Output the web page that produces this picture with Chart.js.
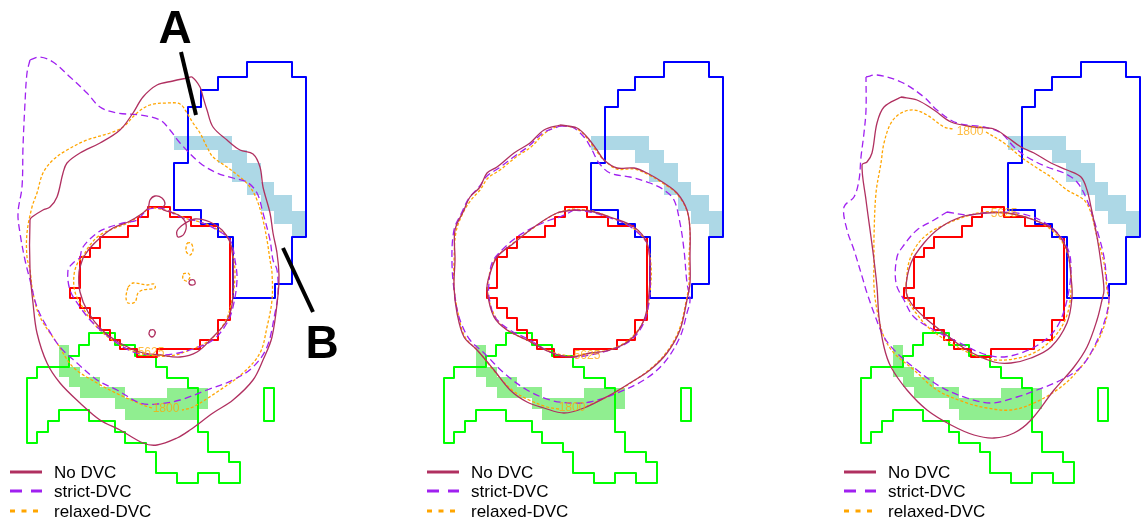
<!DOCTYPE html>
<html>
<head>
<meta charset="utf-8">
<script src="https://cdn.jsdelivr.net/npm/chart.js@4.4.1/dist/chart.umd.min.js"></script>
<style>
    html, body { margin: 0; padding: 0; background: #fff; overflow: hidden; }
    #wrap { position: relative; width: 1144px; height: 527px; overflow: hidden; }
    .panel { position: absolute; top: 0; height: 527px; }
</style>
</head>
<body>
<div id="wrap">
    <div class="panel" style="left:0;width:417px"><canvas id="p1" width="417" height="527"></canvas></div>
    <div class="panel" style="left:417px;width:417px"><canvas id="p2" width="417" height="527"></canvas></div>
    <div class="panel" style="left:834px;width:310px"><canvas id="p3" width="310" height="527"></canvas></div>
</div>
<script>
// ---- structures (same in every panel), panel pixel units ----
const blueRegion = [[247,62],[292,62],[292,77],[306,77],[306,237],[292,237],[292,284],[275,284],[275,298],[233,298],[233,237],[218,237],[218,224],[201,224],[201,210],[174,210],[174,163],[188,163],[188,107],[201,107],[201,90],[218,90],[218,77],[247,77]];
const blueBand = [[174,136],[232,136],[232,150],[247,150],[247,163],[261,163],[261,182],[274,182],[274,195],[292,195],[292,211],[306,211],[306,237],[292,237],[292,224],[274,224],[274,211],[261,211],[261,195],[247,195],[247,182],[232,182],[232,163],[218,163],[218,150],[174,150]];
const redRegion = [[148,207],[170,207],[170,217],[191,217],[191,226],[218,226],[218,237],[230,237],[230,320],[218,320],[218,340],[200,340],[200,349],[157,349],[157,357],[137,357],[137,349],[120,349],[120,340],[110,340],[110,330],[100,330],[100,318],[90,318],[90,308],[80,308],[80,298],[70,298],[70,288],[80,288],[80,257],[90,257],[90,248],[100,248],[100,237],[128,237],[128,226],[138,226],[138,217],[148,217]];
const greenRegion = [[27,378],[37,378],[37,367],[69,367],[69,356],[79,356],[79,345],[89,345],[89,333],[115,333],[115,345],[135,345],[135,356],[156,356],[156,367],[167,367],[167,378],[188,378],[188,388],[198,388],[198,432],[208,432],[208,452],[229,452],[229,462],[240,462],[240,483],[219,483],[219,473],[198,473],[198,483],[177,483],[177,473],[156,473],[156,452],[146,452],[146,443],[125,443],[125,432],[115,432],[115,421],[89,421],[89,410],[59,410],[59,421],[48,421],[48,432],[37,432],[37,443],[27,443]];
const greenSmall = [[264,388],[274,388],[274,421],[264,421]];
const greenBand = [[59,345],[69,345],[69,367],[80,367],[80,377],[100,377],[100,387],[125,387],[125,398],[167,398],[167,388],[208,388],[208,409],[198,409],[198,420],[125,420],[125,409],[115,409],[115,398],[80,398],[80,387],[69,387],[69,377],[59,377]];

// ---- A / B pointers (panel 1) ----
const pointerA = [[181,52],[196,115]];
const pointerB = [[283,248],[313,312]];

// ---- series ----
const seriesNames = ['No DVC', 'strict-DVC', 'relaxed-DVC'];

// ---- panel 1 isodose lines ----
const noDvcOuter1 = [[187,78],[192,77],[200,87],[203,97],[207,110],[213,127],[227,140],[240,150],[253,154],[260,167],[263,187],[270,213],[273,233],[277,253],[279,275],[278,295],[272,337],[263,360],[253,380],[233,400],[213,413],[190,430],[177,438],[157,445],[143,443],[120,430],[100,420],[80,403],[60,383],[47,363],[37,333],[33,303],[30,270],[30,220],[32,217],[43,210],[50,207],[57,197],[63,173],[67,163],[80,153],[100,143],[120,130],[133,113],[143,97],[157,85],[173,81]];
const noDvcInner1 = [[83,258],[90,248],[100,238],[113,228],[128,222],[140,215],[148,208],[150,200],[155,196],[162,198],[165,204],[162,209],[170,212],[180,216],[186,224],[184,234],[178,237],[177,231],[184,224],[195,219],[210,222],[222,230],[230,242],[233,260],[233,280],[232,305],[226,322],[212,338],[197,352],[180,357],[160,355],[140,352],[120,343],[102,330],[88,312],[80,292],[79,272]];
const noDvcIslands1 = [[[150,330],[154,330],[155,334],[152,337],[149,334]], [[190,280],[194,280],[195,284],[191,285],[189,283]]];
const strictOuter1 = [[30,60],[40,57],[53,62],[70,77],[87,93],[100,107],[117,113],[140,115],[160,120],[170,130],[180,143],[200,163],[217,173],[233,178],[247,182],[257,193],[263,213],[270,240],[273,260],[277,270],[278,293],[275,313],[267,347],[253,367],[233,380],[207,390],[180,400],[157,404],[140,403],[117,390],[97,380],[77,363],[60,347],[47,327],[37,307],[30,280],[25,260],[20,233],[18,213],[22,187],[23,147],[25,103],[27,73]];
const strictInner1 = [[80,258],[83,247],[97,233],[107,228],[123,223],[137,220],[147,210],[157,208],[167,210],[180,217],[200,222],[217,230],[230,240],[235,260],[237,280],[233,307],[227,323],[213,340],[193,349],[173,354],[153,355],[133,352],[113,340],[93,323],[80,307],[70,290],[68,270],[73,263]];
const relaxedOuter1 = [[152,408],[143,405],[120,395],[97,383],[73,367],[57,343],[40,317],[33,293],[30,270],[27,257],[27,233],[32,207],[37,193],[43,173],[53,160],[67,150],[87,140],[110,133],[123,127],[137,113],[150,105],[167,103],[180,104],[187,113],[193,123],[200,133],[207,147],[213,157],[227,167],[240,177],[250,187],[257,200],[263,220],[267,240],[270,260],[272,273],[272,300],[267,327],[260,353],[243,373],[220,390],[193,407],[182,410]];
const relaxedInner1 = [[82,258],[90,245],[100,235],[115,228],[130,222],[143,213],[150,208],[160,209],[172,212],[185,218],[200,222],[215,228],[228,238],[233,255],[235,275],[232,300],[225,322],[210,340],[190,350],[170,356],[150,355],[130,350],[112,340],[95,325],[83,308],[75,292],[74,275],[78,262]];
const relaxedIslands1 = [[[128,287],[133,283],[147,285],[154,284],[155,288],[143,290],[138,293],[135,302],[128,303],[126,297]], [[183,274],[188,273],[190,277],[187,281],[183,279]], [[187,243],[191,243],[193,250],[190,255],[186,251]]];
const doseLabels1 = [['5625',151,353],['1800',166,409]];

// ---- panel 2 isodose lines ----
const noDvcOuter2 = [[143,125],[160,128],[170,137],[180,150],[187,160],[200,168],[217,168],[230,173],[247,183],[260,193],[270,210],[273,230],[273,257],[273,283],[270,300],[263,330],[250,353],[233,370],[213,383],[193,395],[167,408],[147,413],[127,408],[110,402],[93,390],[77,370],[60,350],[47,337],[40,313],[37,287],[38,260],[38,230],[47,210],[53,197],[63,187],[70,173],[80,167],[97,153],[113,143],[127,130]];
const noDvcInner2 = [[157,210],[173,211],[193,217],[217,227],[230,243],[233,267],[232,293],[227,320],[213,340],[193,350],[173,353],[153,357],[133,352],[110,340],[90,330],[77,317],[70,290],[72,277],[80,257],[97,243],[117,227],[140,213]];
const strictOuter2 = [[143,126],[155,127],[167,137],[175,150],[182,163],[193,173],[213,177],[233,183],[247,190],[257,200],[263,223],[267,250],[270,283],[273,300],[270,313],[263,337],[247,363],[227,380],[200,393],[173,402],[153,403],[133,400],[110,390],[87,373],[67,353],[53,340],[43,320],[38,297],[35,263],[37,230],[45,212],[52,198],[62,187],[70,176],[82,168],[98,156],[112,146],[126,133]];
const strictInner2 = [[157,210],[173,212],[190,217],[207,223],[220,232],[230,243],[233,263],[233,290],[230,313],[223,330],[210,343],[193,350],[173,355],[153,357],[133,352],[113,340],[93,330],[78,317],[72,297],[72,283],[75,263],[85,250],[100,237],[117,227],[133,220],[143,217]];
const relaxedOuter2 = [[142,409],[130,407],[112,400],[95,390],[78,372],[62,352],[48,337],[41,313],[37,287],[37,262],[39,232],[46,213],[54,200],[63,190],[71,178],[83,170],[99,157],[114,147],[128,133],[143,126],[160,129],[170,138],[180,152],[188,161],[200,169],[217,169],[230,174],[247,184],[260,194],[270,211],[273,232],[272,258],[272,283],[269,302],[262,330],[249,353],[232,370],[212,384],[192,396],[170,406]];
const relaxedInner2 = [[155,209],[175,211],[195,218],[216,228],[229,242],[234,265],[233,292],[228,318],[214,338],[195,349],[175,353],[155,356],[135,352],[112,341],[92,331],[79,318],[71,295],[72,276],[79,258],[95,244],[115,229],[138,214]];
const doseLabels2 = [['5625',170,356],['1800',155,408]];

// ---- panel 3 isodose lines ----
const noDvcOuter3 = [[67,97],[83,100],[100,110],[117,122],[140,127],[160,129],[173,137],[187,147],[200,153],[217,163],[233,170],[247,177],[253,190],[257,207],[263,237],[267,263],[270,290],[268,300],[263,320],[253,347],[240,367],[220,390],[197,420],[180,433],[160,438],[140,435],[117,425],[93,410],[73,390],[57,367],[50,347],[45,317],[43,287],[40,260],[37,237],[32,200],[28,165],[33,162],[38,153],[43,123],[50,107]];
const noDvcInner3 = [[150,213],[173,213],[200,220],[220,230],[233,250],[237,277],[238,297],[233,323],[217,347],[197,358],[177,363],[160,362],[133,350],[110,333],[90,317],[77,303],[72,290],[77,263],[90,243],[107,227],[127,217]];
const strictOuter3 = [[32,77],[43,75],[67,82],[90,97],[103,110],[123,123],[150,127],[167,133],[180,147],[193,157],[213,167],[230,173],[243,182],[253,200],[263,230],[270,257],[273,283],[275,300],[270,323],[260,347],[247,367],[227,380],[203,390],[183,397],[157,403],[133,398],[107,387],[83,370],[63,353],[50,337],[40,313],[32,290],[30,283],[20,250],[13,230],[10,207],[20,197],[25,180],[27,157],[30,133],[32,110]];
const strictInner3 = [[113,212],[133,215],[150,213],[167,212],[193,215],[217,227],[233,247],[237,267],[233,300],[223,327],[207,343],[187,353],[167,357],[147,353],[120,340],[100,330],[80,317],[70,300],[62,283],[63,257],[70,245],[83,230],[100,220]];
const relaxedOuter3 = [[152,132],[170,143],[187,157],[203,168],[217,177],[233,190],[250,200],[257,213],[263,237],[270,263],[273,290],[275,300],[272,320],[263,343],[247,367],[227,387],[200,403],[177,410],[153,408],[130,402],[103,390],[80,370],[60,353],[50,337],[43,310],[40,287],[40,260],[40,237],[42,193],[47,163],[50,143],[57,123],[67,113],[80,110],[93,115],[110,127],[119,129]];
const relaxedInner3 = [[72,285],[75,262],[83,245],[95,233],[110,225],[130,217],[150,212],[170,213],[195,218],[215,228],[230,245],[236,265],[237,290],[233,315],[222,335],[205,350],[185,358],[160,360],[140,355],[115,342],[95,328],[82,313],[74,300]];
const doseLabels3 = [['1800',136,132],['5625',170,214]];

// ---- styles ----
const seriesColors = ['#B03060', '#A020F0', '#FFA500'];
const seriesDash = [[], [7, 4], [3, 2]];
const legendDash = [[], [12, 9], [5, 6.5]];

function toPoints(arr, closed) {
    const out = arr.map(p => ({ x: p[0], y: p[1] }));
    if (closed) out.push({ x: arr[0][0], y: arr[0][1] });
    return out;
}

function areaSet(arr, color) {
    return {
        data: toPoints(arr, true), borderWidth: 0, borderColor: color,
        backgroundColor: color, fill: 'shape', pointRadius: 0, tension: 0, order: 30
    };
}

function outlineSet(arr, color) {
    return {
        data: toPoints(arr, true), borderColor: color, borderWidth: 2,
        fill: false, pointRadius: 0, tension: 0, order: 20,
        borderJoinStyle: 'round', borderCapStyle: 'round'
    };
}

function doseSet(arr, series, closed) {
    return {
        data: toPoints(arr, closed), borderColor: seriesColors[series], borderWidth: 1.3,
        borderDash: seriesDash[series], fill: false, pointRadius: 0,
        tension: 0.35, order: 10
    };
}

const textPlugin = {
    id: 'panelText',
    afterDatasetsDraw(chart, args, opts) {
        const ctx = chart.ctx;
        const xs = chart.scales.x, ys = chart.scales.y;
        ctx.save();
        // contour labels
        ctx.font = '12px "Liberation Sans", Arial, sans-serif';
        ctx.fillStyle = 'rgba(255,165,0,0.75)';
        ctx.textAlign = 'center';
        ctx.textBaseline = 'middle';
        (opts.labels || []).forEach(l => {
            ctx.fillText(l[0], xs.getPixelForValue(l[1]), ys.getPixelForValue(l[2]));
        });
        // legend
        const rowY = [472, 491, 511];
        seriesNames.forEach((name, i) => {
            ctx.beginPath();
            ctx.setLineDash(legendDash[i]);
            ctx.lineWidth = 3;
            ctx.strokeStyle = seriesColors[i];
            ctx.moveTo(10, rowY[i]);
            ctx.lineTo(42, rowY[i]);
            ctx.stroke();
            ctx.setLineDash([]);
            ctx.fillStyle = '#000';
            ctx.textAlign = 'left';
            ctx.font = '17px "Liberation Sans", Arial, sans-serif';
            ctx.fillText(name, 54, rowY[i] + 1);
        });
        // letters
        ctx.font = 'bold 46px "Liberation Sans", Arial, sans-serif';
        ctx.textAlign = 'center';
        ctx.textBaseline = 'alphabetic';
        ctx.fillStyle = '#000';
        (opts.letters || []).forEach(l => {
            ctx.fillText(l[0], xs.getPixelForValue(l[1]), ys.getPixelForValue(l[2]));
        });
        ctx.restore();
    }
};

function buildPanel(id, width, dose, labels, letters) {
    const datasets = [
        areaSet(blueBand, '#ADD8E6'),
        areaSet(greenBand, '#90EE90'),
        outlineSet(blueRegion, '#0000FF'),
        outlineSet(redRegion, '#FF0000'),
        outlineSet(greenRegion, '#00FF00'),
        outlineSet(greenSmall, '#00FF00')
    ];
    dose.forEach(d => datasets.push(doseSet(d[0], d[1], d[2])));
    if (letters.length) {
        [pointerA, pointerB].forEach(p => datasets.push({
            data: toPoints(p, false), borderColor: '#000', borderWidth: 4,
            pointRadius: 0, fill: false, order: 5
        }));
    }
    new Chart(document.getElementById(id), {
        type: 'line',
        data: { datasets },
        options: {
            responsive: false,
            animation: false,
            events: [],
            layout: { padding: 0 },
            scales: {
                x: { type: 'linear', min: 0, max: width, display: false },
                y: { type: 'linear', min: 0, max: 527, reverse: true, display: false }
            },
            plugins: {
                legend: { display: false },
                tooltip: { enabled: false },
                panelText: { labels, letters }
            }
        },
        plugins: [textPlugin]
    });
}

buildPanel('p1', 417, [
    [noDvcOuter1, 0, true], [noDvcInner1, 0, true],
    [noDvcIslands1[0], 0, true], [noDvcIslands1[1], 0, true],
    [strictOuter1, 1, true], [strictInner1, 1, true],
    [relaxedOuter1, 2, false], [relaxedInner1, 2, true],
    [relaxedIslands1[0], 2, true], [relaxedIslands1[1], 2, true], [relaxedIslands1[2], 2, true]
], doseLabels1, [['A', 175, 43], ['B', 322, 358]]);

buildPanel('p2', 417, [
    [noDvcOuter2, 0, true], [noDvcInner2, 0, true],
    [strictOuter2, 1, true], [strictInner2, 1, true],
    [relaxedOuter2, 2, false], [relaxedInner2, 2, true]
], doseLabels2, []);

buildPanel('p3', 310, [
    [noDvcOuter3, 0, true], [noDvcInner3, 0, true],
    [strictOuter3, 1, true], [strictInner3, 1, true],
    [relaxedOuter3, 2, false], [relaxedInner3, 2, true]
], doseLabels3, []);
</script>
</body>
</html>
